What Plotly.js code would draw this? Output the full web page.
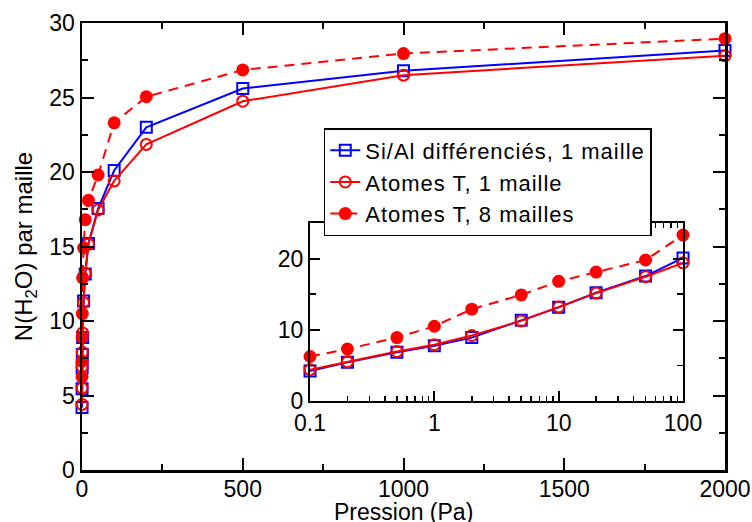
<!DOCTYPE html>
<html>
<head>
<meta charset="utf-8">
<script src="https://cdn.plot.ly/plotly-3.0.1.min.js"></script>
<style>
html,body{margin:0;padding:0;background:#fff;}
.legendtext{letter-spacing:1px;}
</style>
</head>
<body>
<div id="chart" style="width:752px;height:522px;"></div>
<script>
// Pressure (Pa)
const pressure = [0.1, 0.2, 0.5, 1, 2, 5, 10, 20, 50, 100, 200, 500, 1000, 2000];
// N(H2O) per cell
const siAl1 = [4.2, 5.45, 6.85, 7.75, 8.9, 11.35, 13.15, 15.2, 17.55, 20.1, 23.0, 25.6, 26.8, 28.15];
const atT1  = [4.4, 5.5, 6.95, 7.9, 9.2, 11.25, 13.2, 15.15, 17.45, 19.4, 21.85, 24.75, 26.5, 27.8];
const atT8  = [6.25, 7.3, 8.9, 10.5, 12.9, 14.9, 16.8, 18.1, 19.8, 23.3, 25.05, 26.85, 27.95, 28.95];
const names = ["Si/Al différenciés, 1 maille", "Atomes T, 1 maille", "Atomes T, 8 mailles"];
const xTitle = "Pression (Pa)";
const yTitle = "N(H<sub>2</sub>O) par maille";
const insetMax = 100;
const insetTickVals = [0.1, 1, 10, 100];
const insetTickText = ["0.1", "1", "10", "100"];

const BLUE = "#0000ff", RED = "#ff0000";
const idx = pressure.map((p,i)=>i).filter(i=>pressure[i] <= insetMax);
const sub = arr => idx.map(i=>arr[i]);

function tr(y, name, style, axes, showlegend){
  const t = {x: axes ? sub(pressure) : pressure, y: axes ? sub(y) : y, name: name,
    type:"scatter", mode:"lines+markers", cliponaxis:false, showlegend: showlegend};
  Object.assign(t, style);
  if (axes){ t.xaxis="x2"; t.yaxis="y2"; }
  return t;
}
const sBlue = {line:{color:BLUE,width:2}, marker:{symbol:"square-open",size:11,color:BLUE,line:{width:2,color:BLUE}}};
const sOpen = {line:{color:RED,width:2}, marker:{symbol:"circle-open",size:11,color:RED,line:{width:2,color:RED}}};
const sFill = {line:{color:RED,width:2,dash:"10px,7px"}, marker:{symbol:"circle",size:13,color:RED}};

const data = [
  tr(siAl1, names[0], sBlue, false, true),
  tr(atT1, names[1], sOpen, false, true),
  tr(atT8, names[2], sFill, false, true),
  tr(atT8, names[2], sFill, true, false),
  tr(siAl1, names[0], sBlue, true, false),
  tr(atT1, names[1], sOpen, true, false)
];

const FONT = '"Liberation Sans", Arial, Helvetica, sans-serif';
const common = {showgrid:false, zeroline:false, showline:true, linecolor:"#000", linewidth:2.5,
  mirror:"ticks", ticks:"inside", tickcolor:"#000", tickwidth:2, ticklen:12,
  tickfont:{family:FONT,size:23,color:"#000"}};

const layout = {
  width:752, height:522,
  margin:{l:82, r:27, t:23, b:52, pad:0},
  paper_bgcolor:"#fff", plot_bgcolor:"#fff",
  font:{family:FONT, color:"#000"},
  showlegend:true,
  legend:{x:0.376, y:0.765, xanchor:"left", yanchor:"top", bgcolor:"#fff",
    bordercolor:"#000", borderwidth:1.5, font:{family:FONT,size:22,color:"#000"},
    tracegroupgap:0, itemwidth:30},
  annotations:[{text:xTitle, xref:"paper", yref:"paper", x:0.5, y:-0.0935,
    xanchor:"center", yanchor:"middle", showarrow:false,
    font:{family:FONT,size:23,color:"#000"}}],
  xaxis: Object.assign({}, common, {range:[0,2000], dtick:500, tick0:0, ticklabelstandoff:-3,
    minor:{dtick:250, ticks:"inside", ticklen:6, tickwidth:2, tickcolor:"#000"}}),
  yaxis: Object.assign({}, common, {range:[0,30], dtick:5, tick0:0,
    minor:{dtick:2.5, ticks:"inside", ticklen:6, tickwidth:2, tickcolor:"#000"},
    title:{text:yTitle, font:{family:FONT,size:24,color:"#000"}, standoff:10}}),
  xaxis2: Object.assign({}, common, {type:"log", range:[-1,2], domain:[0.3546,0.9347], anchor:"y2",
    tickvals:insetTickVals, ticktext:insetTickText, ticklen:10, linewidth:2,
    minor:{dtick:"D1", ticks:"inside", ticklen:5, tickwidth:1.5, tickcolor:"#000"}}),
  yaxis2: Object.assign({}, common, {range:[0,25], dtick:10, tick0:0, domain:[0.1544,0.5526], anchor:"x2",
    ticklen:10, linewidth:2,
    minor:{dtick:5, ticks:"inside", ticklen:6, tickwidth:1.5, tickcolor:"#000"}})
};

Plotly.newPlot("chart", data, layout, {staticPlot:true, displayModeBar:false});
</script>
</body>
</html>
